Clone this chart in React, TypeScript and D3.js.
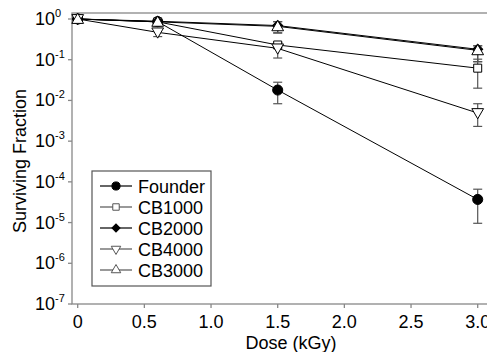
import { scaleLinear, scaleLog, line, symbol, symbolCircle, symbolSquare, symbolTriangle } from 'd3';

const doses = [0, 0.6, 1.5, 3.0];
const seriesNames = ['Founder', 'CB1000', 'CB2000', 'CB4000', 'CB3000'];
const founder = [1, 0.86, 0.018, 3.7e-5];
const founderLo = [1, 0.8, 0.0083, 9.6e-6];
const founderHi = [1, 0.92, 0.028, 6.6e-5];
const cb1000 = [1, 0.85, 0.23, 0.062];
const cb1000Lo = [1, 0.78, 0.2, 0.02];
const cb1000Hi = [1, 0.92, 0.26, 0.103];
const cb2000 = [1, 0.88, 0.69, 0.18];
const cb2000Lo = [1, 0.82, 0.46, 0.09];
const cb2000Hi = [1, 0.93, 0.86, 0.22];
const cb4000 = [1, 0.47, 0.19, 0.0049];
const cb4000Lo = [1, 0.37, 0.11, 0.0023];
const cb4000Hi = [1, 0.56, 0.26, 0.0083];
const cb3000 = [1, 0.85, 0.66, 0.17];
const cb3000Lo = [1, 0.8, 0.45, 0.089];
const cb3000Hi = [1, 0.9, 0.86, 0.22];
const xTicks = [0, 0.5, 1.0, 1.5, 2.0, 2.5, 3.0];
const xTickLabels = ['0', '0.5', '1.0', '1.5', '2.0', '2.5', '3.0'];
const yExponents = [0, -1, -2, -3, -4, -5, -6, -7];

const font = "'Liberation Sans', Arial, sans-serif";

export default function App() {
  const x = scaleLinear().domain([0, 3]).range([77.7, 477.7]);
  const y = scaleLog().domain([1e-7, 1]).range([304, 19]);
  const left = 72, top = 13, bottom = 304;

  // diamond is drawn as a square turned 45 degrees
  const series = [
    { name: seriesNames[0], v: founder, lo: founderLo, hi: founderHi, type: symbolCircle, size: 80, fill: '#000', rot: 0 },
    { name: seriesNames[1], v: cb1000, lo: cb1000Lo, hi: cb1000Hi, type: symbolSquare, size: 64, fill: '#fff', rot: 0 },
    { name: seriesNames[2], v: cb2000, lo: cb2000Lo, hi: cb2000Hi, type: symbolSquare, size: 50, fill: '#000', rot: 45 },
    { name: seriesNames[3], v: cb4000, lo: cb4000Lo, hi: cb4000Hi, type: symbolTriangle, size: 60, fill: '#fff', rot: 180 },
    { name: seriesNames[4], v: cb3000, lo: cb3000Lo, hi: cb3000Hi, type: symbolTriangle, size: 60, fill: '#fff', rot: 0 },
  ];

  const path = line<number>()
    .x((d, i) => x(doses[i]))
    .y((d) => y(d));

  return (
    <svg width={487} height={352} style={{ position: 'absolute', left: 0, top: 0, background: '#fff' }} fontFamily={font}>
      {/* frame */}
      <rect x={left} y={top} width={440} height={bottom - top} fill="none" stroke="#888" strokeWidth={1.3} />
      {/* y axis */}
      {yExponents.map((e) => (
        <g key={e}>
          <line x1={left - 4} x2={left} y1={y(Math.pow(10, e))} y2={y(Math.pow(10, e))} stroke="#888" strokeWidth={1.3} />
          <text x={35} y={y(Math.pow(10, e)) + 6} fontSize={18} fill="#000">
            10<tspan fontSize={11} dy={-8}>{e}</tspan>
          </text>
        </g>
      ))}
      {/* x axis */}
      {xTicks.map((t, i) => (
        <g key={t}>
          <line x1={x(t)} x2={x(t)} y1={bottom} y2={bottom + 4} stroke="#888" strokeWidth={1.3} />
          <text x={x(t)} y={328} fontSize={18} textAnchor="middle" fill="#000">{xTickLabels[i]}</text>
        </g>
      ))}
      <text x={291} y={349} fontSize={18} textAnchor="middle">Dose (kGy)</text>
      <text transform="translate(26,161) rotate(-90)" fontSize={18} textAnchor="middle">Surviving Fraction</text>

      {/* lines */}
      {series.map((s) => (
        <path key={s.name + 'l'} d={path(s.v) || ''} fill="none" stroke="#000" strokeWidth={1} />
      ))}
      {/* error bars */}
      {series.map((s) =>
        doses.map((d, i) =>
          s.lo[i] === s.hi[i] ? null : (
            <g key={s.name + 'e' + i} stroke="#555" strokeWidth={1.2}>
              <line x1={x(d)} x2={x(d)} y1={y(s.lo[i])} y2={y(s.hi[i])} />
              <line x1={x(d) - 4.5} x2={x(d) + 4.5} y1={y(s.lo[i])} y2={y(s.lo[i])} />
              <line x1={x(d) - 4.5} x2={x(d) + 4.5} y1={y(s.hi[i])} y2={y(s.hi[i])} />
            </g>
          )
        )
      )}
      {/* markers */}
      {series.map((s) =>
        doses.map((d, i) => (
          <path
            key={s.name + 'm' + i}
            d={symbol(s.type, s.size)() || ''}
            transform={`translate(${x(d)},${y(s.v[i]) + (s.type === symbolTriangle ? (s.rot ? -1 : 1) : 0)}) rotate(${s.rot})`}
            fill={s.fill}
            stroke="#000"
            strokeWidth={1}
          />
        ))
      )}

      {/* legend */}
      <rect x={92} y={171} width={119} height={115} fill="#fff" stroke="#555" strokeWidth={1.2} />
      {series.map((s, i) => {
        const ly = 186 + i * 21;
        return (
          <g key={s.name + 'leg'}>
            <line x1={100} x2={132} y1={ly} y2={ly} stroke={s.fill === '#000' ? '#000' : '#555'} strokeWidth={1.2} />
            <path
              d={symbol(s.type, s.size * 0.65)() || ''}
              transform={`translate(116,${ly}) rotate(${s.rot})`}
              fill={s.fill}
              stroke={s.fill === '#000' ? '#000' : '#555'}
              strokeWidth={1}
            />
            <text x={138} y={ly + 6.5} fontSize={18}>{s.name}</text>
          </g>
        );
      })}
    </svg>
  );
}
